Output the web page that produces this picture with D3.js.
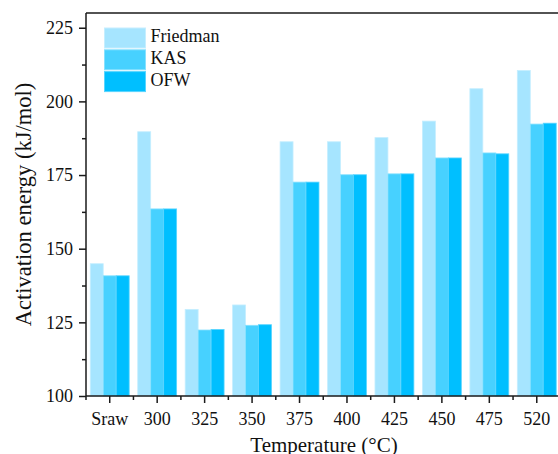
<!DOCTYPE html>
<html>
<head>
<meta charset="utf-8">
<script src="https://cdn.jsdelivr.net/npm/d3@7"></script>
<style>
  html, body { margin: 0; padding: 0; background: #fff; }
  svg { display: block; font-family: "Liberation Serif", "Times New Roman", serif; }
</style>
</head>
<body>
<svg id="chart" width="558" height="454"></svg>
<script>
// Activation energy by pyrolysis temperature for three isoconversional methods
const categories = ["Sraw", "300", "325", "350", "375", "400", "425", "450", "475", "520"];
const seriesNames = ["Friedman", "KAS", "OFW"];
const friedman = [144.9, 189.7, 129.4, 130.9, 186.3, 186.3, 187.7, 193.3, 204.3, 210.5];
const kas      = [140.8, 163.5, 122.4, 124.0, 172.6, 175.1, 175.4, 180.8, 182.5, 192.3];
const ofw      = [140.8, 163.5, 122.6, 124.2, 172.6, 175.1, 175.4, 180.8, 182.2, 192.6];
const yTicks = [100, 125, 150, 175, 200, 225];
const yMinorTicks = [112.5, 137.5, 162.5, 187.5, 212.5];

const colors = ["#a6e5ff", "#47d1ff", "#00bfff"];
const seriesValues = [friedman, kas, ofw];

const svg = d3.select("#chart");
const plotLeft = 86, plotRight = 560.5, plotTop = 13, plotBottom = 396;

const y = d3.scaleLinear().domain([100, 230]).range([plotBottom, plotTop]);
const x = d3.scaleBand().domain(categories).range([plotLeft, plotRight])
  .paddingInner(0.18).paddingOuter(0.09);
const xSub = d3.scaleBand().domain(seriesNames).range([0, x.bandwidth()]);

// bars
const groups = svg.append("g").selectAll("g")
  .data(categories)
  .join("g")
  .attr("transform", d => `translate(${x(d)},0)`);

groups.selectAll("rect")
  .data((c, i) => seriesNames.map((s, k) => ({ s, k, v: seriesValues[k][i] })))
  .join("rect")
  .attr("x", d => xSub(d.s))
  .attr("width", xSub.bandwidth())
  .attr("y", d => y(d.v))
  .attr("height", d => y(100) - y(d.v))
  .attr("fill", d => colors[d.k])
  .attr("stroke", d => d3.interpolateRgb(colors[d.k], "#ffffff")(0.35))
  .attr("stroke-width", 0.8);

// frame (top line; right side lies past the visible area)
const axisColor = "#1a1a1a";
svg.append("line")
  .attr("x1", plotLeft).attr("x2", plotRight)
  .attr("y1", plotTop).attr("y2", plotTop)
  .attr("stroke", axisColor).attr("stroke-width", 1.5);
svg.append("line")
  .attr("x1", plotRight).attr("x2", plotRight)
  .attr("y1", plotTop).attr("y2", plotBottom)
  .attr("stroke", axisColor).attr("stroke-width", 1.5);

// y axis
const yAxis = svg.append("g")
  .attr("transform", `translate(${plotLeft},0)`)
  .call(d3.axisLeft(y).tickValues(yTicks).tickSize(7).tickPadding(6).tickSizeOuter(0));
svg.append("g")
  .attr("transform", `translate(${plotLeft},0)`)
  .call(d3.axisLeft(y).tickValues(yMinorTicks).tickSize(4).tickFormat("").tickSizeOuter(0))
  .call(g => g.select(".domain").remove());
yAxis.select(".domain").attr("d", `M0,${plotBottom}V${plotTop}`);

// x axis
const xAxis = svg.append("g")
  .attr("transform", `translate(0,${plotBottom})`)
  .call(d3.axisBottom(x).tickSize(7).tickSizeOuter(0));
xAxis.select(".domain").attr("d", `M${plotLeft},0H${plotRight}`);
// minor ticks at category boundaries
const step = x.step();
const boundaries = d3.range(categories.length + 1).map(i => plotLeft + step * i);
svg.append("g")
  .attr("transform", `translate(0,${plotBottom})`)
  .selectAll("line")
  .data(boundaries)
  .join("line")
  .attr("x1", d => d).attr("x2", d => d)
  .attr("y1", 0).attr("y2", 4)
  .attr("stroke", axisColor).attr("stroke-width", 1.5);

svg.selectAll(".domain").attr("stroke", axisColor).attr("stroke-width", 1.5);
svg.selectAll(".tick line").attr("stroke", axisColor).attr("stroke-width", 1.5);
svg.selectAll(".tick text")
  .attr("font-family", "Liberation Serif, Times New Roman, serif")
  .attr("font-size", 18)
  .attr("fill", "#111");
xAxis.selectAll(".tick text").attr("y", 29).attr("dy", 0);

// axis titles
svg.append("text")
  .attr("x", 324).attr("y", 452)
  .attr("text-anchor", "middle")
  .attr("font-size", 21)
  .attr("fill", "#111")
  .text("Temperature (°C)");
svg.append("text")
  .attr("transform", "translate(31,204.5) rotate(-90)")
  .attr("text-anchor", "middle")
  .attr("font-size", 22.5)
  .attr("fill", "#111")
  .text("Activation energy (kJ/mol)");

// legend
const legend = svg.append("g").attr("transform", "translate(104.5,28)");
const legendItems = legend.selectAll("g")
  .data(seriesNames)
  .join("g")
  .attr("transform", (d, i) => `translate(0,${i * 21.8})`);
legendItems.append("rect")
  .attr("width", 41).attr("height", 20)
  .attr("fill", (d, i) => colors[i])
  .attr("stroke", (d, i) => d3.interpolateRgb(colors[i], "#ffffff")(0.35))
  .attr("stroke-width", 1);
legendItems.append("text")
  .attr("x", 46).attr("y", 14)
  .attr("font-size", 18)
  .attr("fill", "#111")
  .text(d => d);
</script>
</body>
</html>
